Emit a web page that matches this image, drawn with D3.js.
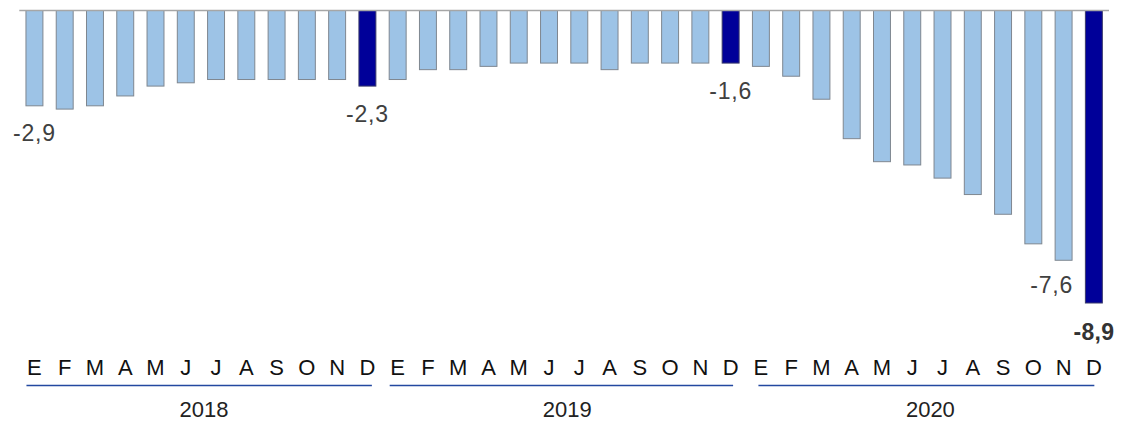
<!DOCTYPE html>
<html>
<head>
<meta charset="utf-8">
<script src="https://cdn.jsdelivr.net/npm/d3@7"></script>
<style>
  html, body { margin: 0; padding: 0; background: #fff; }
  svg { display: block; font-family: "Liberation Sans", Arial, sans-serif; }
</style>
</head>
<body>
<svg id="chart" width="1121" height="421"></svg>
<script>
const years = ["2018", "2019", "2020"];
const months = ["E", "F", "M", "A", "M", "J", "J", "A", "S", "O", "N", "D"];
const values2018 = [-2.9, -3.0, -2.9, -2.6, -2.3, -2.2, -2.1, -2.1, -2.1, -2.1, -2.1, -2.3];
const values2019 = [-2.1, -1.8, -1.8, -1.7, -1.6, -1.6, -1.6, -1.8, -1.6, -1.6, -1.6, -1.6];
const values2020 = [-1.7, -2.0, -2.7, -3.9, -4.6, -4.7, -5.1, -5.6, -6.2, -7.1, -7.6, -8.9];
const labelledBars = [0, 11, 23, 34, 35];

const seriesByYear = [values2018, values2019, values2020];
const data = [];
years.forEach((y, yi) => {
  months.forEach((m, mi) => {
    data.push({ key: y + "-" + mi, year: y, month: m, mi: mi, value: seriesByYear[yi][mi] });
  });
});

const svg = d3.select("#chart");
const baseY = 10.5;

const x = d3.scaleBand()
  .domain(data.map(d => d.key))
  .range([19.3, 1109])
  .paddingInner(0.44)
  .paddingOuter(0.22);

const y = d3.scaleLinear()
  .domain([0, -8.9])
  .range([baseY, 303]);

const bw = x.bandwidth();
const fmt = v => d3.format(".1f")(v).replace(".", ",").replace("−", "-");

// bars
svg.append("g").selectAll("rect")
  .data(data)
  .join("rect")
  .attr("x", d => x(d.key))
  .attr("y", y(0))
  .attr("width", bw)
  .attr("height", d => y(d.value) - y(0))
  .attr("fill", d => d.mi === 11 ? "#000099" : "#9dc3e6")
  .attr("stroke", d => d.mi === 11 ? "#3a3a6a" : "#7f8790")
  .attr("stroke-width", 1);

// baseline
svg.append("line")
  .attr("x1", x.range()[0]).attr("x2", x.range()[1])
  .attr("y1", y(0)).attr("y2", y(0))
  .attr("stroke", "#a6a6a6").attr("stroke-width", 1.5);

// value labels
const n = data.length;
svg.append("g").selectAll("text")
  .data(labelledBars.map(i => ({ i: i, d: data[i] })))
  .join("text")
  .attr("x", o => o.i === n - 2 ? x(o.d.key) + bw + 1 : x(o.d.key) + bw / 2)
  .attr("y", o => y(o.d.value) + (o.i === n - 2 ? 32.5 : (o.i === n - 1 ? 36.5 : 35.5)))
  .attr("text-anchor", o => o.i === n - 2 ? "end" : "middle")
  .attr("font-size", "23px")
  .attr("font-weight", o => o.i === n - 1 ? "bold" : "normal")
  .attr("letter-spacing", o => o.i === n - 1 ? "0.3px" : "0.8px")
  .attr("fill", o => o.i === n - 1 ? "#333333" : "#404040")
  .text(o => fmt(o.d.value));

// month axis labels
svg.append("g").selectAll("text")
  .data(data)
  .join("text")
  .attr("x", d => x(d.key) + bw / 2)
  .attr("y", 375)
  .attr("text-anchor", "middle")
  .attr("font-size", "22px")
  .attr("fill", "#111111")
  .text(d => d.month);

// year group lines and labels
const groups = years.map(yr => {
  const items = data.filter(d => d.year === yr);
  return { year: yr, first: items[0].key, last: items[items.length - 1].key };
});

svg.append("g").selectAll("line")
  .data(groups)
  .join("line")
  .attr("x1", (g, i) => x(g.first) + (i === 2 ? 6 : 0.5))
  .attr("x2", (g, i) => x(g.last) + bw - (4 + 2 * i))
  .attr("y1", 385.5).attr("y2", 385.5)
  .attr("stroke", "#2348a0").attr("stroke-width", 1.5);

svg.append("g").selectAll("text")
  .data(groups)
  .join("text")
  .attr("x", g => (x(g.first) + x(g.last) + bw) / 2 + 3)
  .attr("y", 417)
  .attr("text-anchor", "middle")
  .attr("font-size", "22px")
  .attr("fill", "#222222")
  .text(g => g.year);
</script>
</body>
</html>
